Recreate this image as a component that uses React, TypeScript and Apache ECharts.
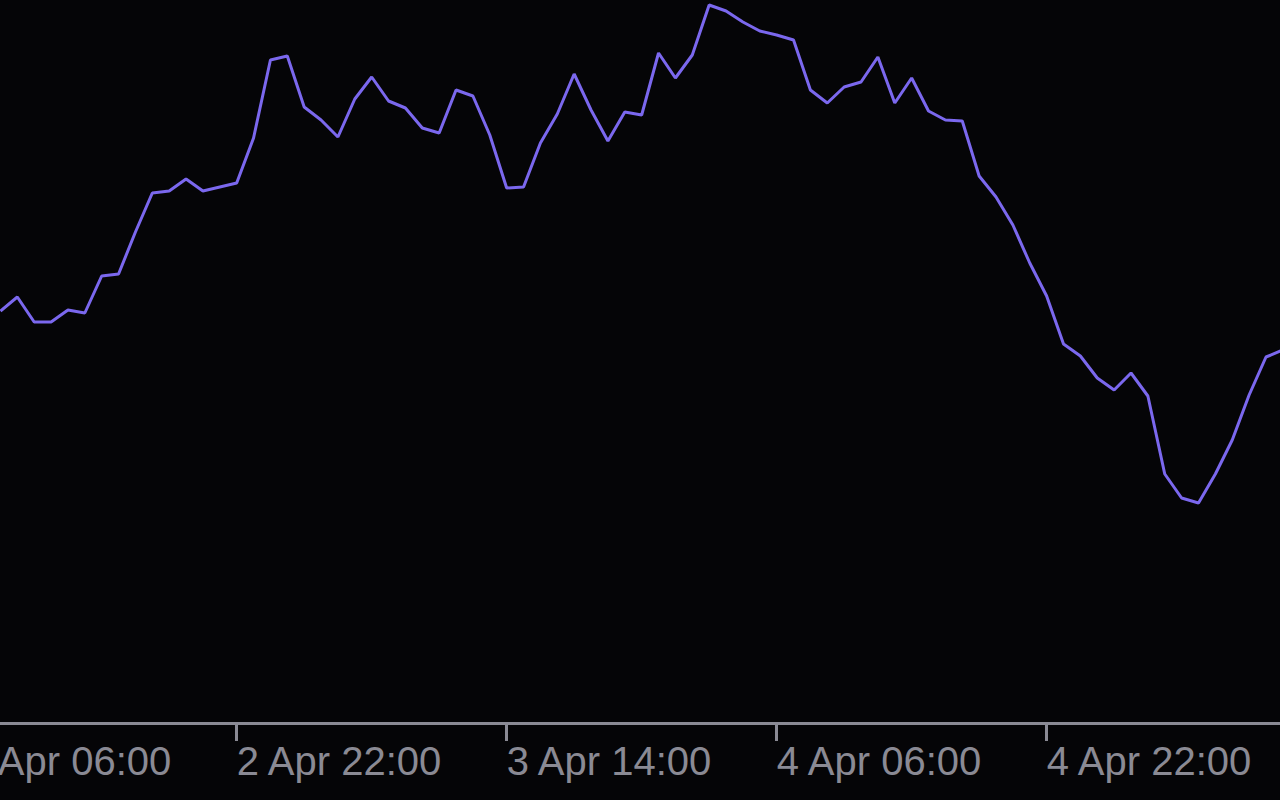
import React, { useEffect, useRef } from "react";
import * as echarts from "echarts";

// Hourly readings starting 2 Apr 08:00 (hour offset 2 from 2 Apr 06:00)
const START_DAY = 2;
const START_HOUR_OF_DAY = 6; // axis origin: 2 Apr 06:00
const FIRST_OFFSET_H = 2; // first reading at 08:00

const values: number[] = [
  41.2, 42.6, 40.1, 40.1, 41.3, 41.0, 44.7, 44.9, 49.1, 53.0, // 08:00..17:00 2 Apr
  53.2, 54.4, 53.2, 53.6, 54.0, 58.5, 66.3, 66.7, 61.6, 60.3, // 18:00..3 Apr 03:00
  58.6, 62.4, 64.6, 62.2, 61.5, 59.5, 59.0, 63.3, 62.7, 58.8, // 04:00..13:00
  53.5, 53.6, 58.0, 60.9, 64.9, 61.3, 58.2, 61.1, 60.8, 67.0, // 14:00..23:00
  64.5, 66.8, 71.8, 71.2, 70.1, 69.2, 68.8, 68.3, 63.3, 62.0, // 4 Apr 00:00..09:00
  63.6, 64.1, 66.6, 62.0, 64.5, 61.2, 60.3, 60.2, 54.7, 52.6, // 10:00..19:00
  49.8, 46.0, 42.7, 37.9, 36.7, 34.5, 33.3, 35.0, 32.7, 24.9, // 20:00..5 Apr 05:00
  22.5, 22.0, 24.9, 28.3, 32.8, 36.6, 37.3,                   // 06:00..12:00
];

const tickHours: number[] = [0, 16, 32, 48, 64];
const axisMinH = 0;
const axisMaxH = 77.83;
const yMin = 0;
const yMax = 72.3;

const MONTH = "Apr";

function labelFor(h: number): string {
  const total = START_HOUR_OF_DAY + h;
  const day = START_DAY + Math.floor(total / 24);
  const hr = ((total % 24) + 24) % 24;
  return `${day} ${MONTH} ${String(hr).padStart(2, "0")}:00`;
}

export default function App() {
  const ref = useRef<HTMLDivElement>(null);
  useEffect(() => {
    if (!ref.current) return;
    const chart = echarts.init(ref.current, null, { renderer: "svg" });
    const data = values.map((v, i) => [FIRST_OFFSET_H + i, v]);
    chart.setOption({
      animation: false,
      backgroundColor: "#050507",
      grid: {
        left: -33.3,
        right: 0,
        top: 0,
        bottom: 77,
        containLabel: false,
        outerBoundsMode: "none",
      },
      xAxis: {
        type: "value",
        min: axisMinH,
        max: axisMaxH,
        splitLine: { show: false },
        axisLine: { show: true, lineStyle: { color: "#8a8a94", width: 3 } },
        axisTick: {
          show: true,
          customValues: tickHours,
          length: 18,
          lineStyle: { color: "#8a8a94", width: 3 },
        },
        axisLabel: {
          customValues: tickHours,
          formatter: (v: number) => labelFor(v),
          color: "#8a8a94",
          fontFamily: "Liberation Sans",
          fontSize: 40,
          lineHeight: 40,
          align: "left",
          margin: 18,
        },
      },
      yAxis: {
        type: "value",
        min: yMin,
        max: yMax,
        show: false,
        splitLine: { show: false },
      },
      series: [
        {
          type: "line",
          data,
          showSymbol: false,
          symbol: "none",
          lineStyle: { color: "#7b68ee", width: 3 },
          clip: true,
        },
      ],
    });
    return () => chart.dispose();
  }, []);
  return (
    <div
      ref={ref}
      style={{ position: "fixed", left: 0, top: 0, width: 1280, height: 800 }}
    />
  );
}
